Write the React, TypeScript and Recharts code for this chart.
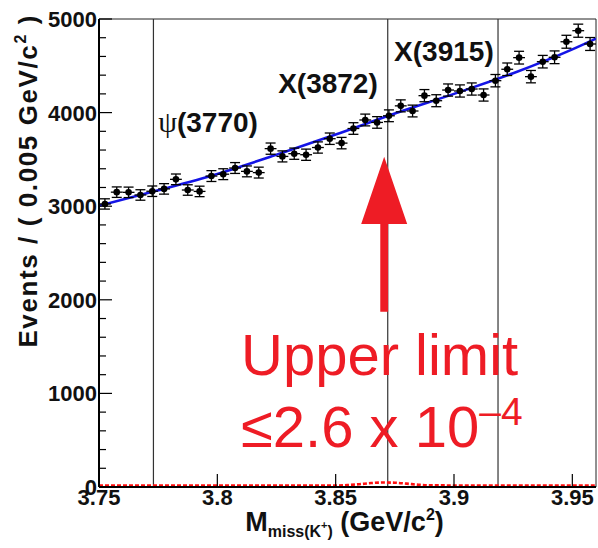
import {
  ComposedChart,
  XAxis,
  YAxis,
  Line,
  Scatter,
  ErrorBar,
  ReferenceLine,
  ReferenceArea,
  ReferenceDot,
} from "recharts"

// K+ recoil mass spectrum, 5 MeV bins
const massBins = [
  3.7525, 3.7575, 3.7625, 3.7675, 3.7725, 3.7775, 3.7825, 3.7875, 3.7925, 3.7975,
  3.8025, 3.8075, 3.8125, 3.8175, 3.8225, 3.8275, 3.8325, 3.8375, 3.8425, 3.8475,
  3.8525, 3.8575, 3.8625, 3.8675, 3.8725, 3.8775, 3.8825, 3.8875, 3.8925, 3.8975,
  3.9025, 3.9075, 3.9125, 3.9175, 3.9225, 3.9275, 3.9325, 3.9375, 3.9425, 3.9475,
  3.9525, 3.9575,
]

const events = [
  3024, 3150, 3148, 3120, 3160, 3185, 3287, 3173, 3158, 3322,
  3342, 3408, 3372, 3359, 3615, 3532, 3561, 3550, 3627, 3721,
  3674, 3830, 3921, 3895, 3966, 4072, 4017, 4181, 4127, 4241,
  4231, 4252, 4188, 4341, 4463, 4587, 4384, 4544, 4591, 4757,
  4875, 4733,
]

const eventErrors = [
  55, 56, 56, 56, 56, 56, 57, 56, 56, 58,
  58, 58, 58, 58, 60, 59, 60, 60, 60, 61,
  61, 62, 63, 62, 63, 64, 63, 65, 64, 65,
  65, 65, 65, 66, 67, 68, 66, 67, 68, 69,
  70, 69,
]

const binHalfWidth = 0.0025

// background fit (blue)
const fitMass = [3.75, 3.775, 3.8, 3.825, 3.85, 3.875, 3.9, 3.925, 3.95, 3.96]
const fitEvents = [3005, 3170, 3345, 3550, 3765, 3990, 4200, 4420, 4675, 4790]

// signal shape at the upper limit (red dotted)
const signalMass = [3.75, 3.85, 3.855, 3.86, 3.865, 3.87, 3.875, 3.88, 3.885, 3.89, 3.96]
const signalEvents = [16, 16, 20, 30, 42, 48, 46, 36, 24, 17, 16]

const resonanceMasses = [3.773, 3.872, 3.9186]

const xTicks = [3.75, 3.8, 3.85, 3.9, 3.95]
const yTicks = [
  0, 200, 400, 600, 800, 1000, 1200, 1400, 1600, 1800, 2000, 2200, 2400,
  2600, 2800, 3000, 3200, 3400, 3600, 3800, 4000, 4200, 4400, 4600, 4800, 5000,
]

const points = massBins.map((mass, i) => ({
  mass,
  events: events[i],
  ey: eventErrors[i],
  ex: binHalfWidth,
}))
const fitData = fitMass.map((mass, i) => ({ mass, events: fitEvents[i] }))
const signalData = signalMass.map((mass, i) => ({ mass, events: signalEvents[i] }))

const SANS = "'Liberation Sans', Arial, Helvetica, sans-serif"
const SERIF = "'Liberation Serif', 'Times New Roman', serif"
const RED = "#ee1c25"

const YTick = (props: any) => {
  const { x, y, payload } = props
  const major = payload.value % 1000 === 0
  return (
    <g>
      <line x1={x} x2={x + (major ? 13 : 7)} y1={y} y2={y} stroke="#000" strokeWidth={1.2} />
      {major && (
        <text x={x - 2} y={y + 8} textAnchor="end" fontSize={22} fontWeight="bold" fontFamily={SANS} fill="#111">
          {payload.value}
        </text>
      )}
    </g>
  )
}

const XTick = (props: any) => {
  const { x, y, payload } = props
  return (
    <g>
      <line x1={x} x2={x} y1={y} y2={y - 13} stroke="#000" strokeWidth={1.2} />
      <text x={x} y={y + 18} textAnchor="middle" fontSize={22} fontWeight="bold" fontFamily={SANS} fill="#111">
        {String(payload.value)}
      </text>
    </g>
  )
}

const YTitle = (props: any) => {
  const { viewBox } = props
  const tx = viewBox.x + 37
  const ty = viewBox.y - 5
  return (
    <text
      transform={`translate(${tx},${ty}) rotate(-90)`}
      textAnchor="end"
      fontSize={26}
      letterSpacing={1.6}
      fontWeight="bold"
      fontFamily={SANS}
      fill="#111"
    >
      <tspan>Events / ( 0.005 GeV/c</tspan>
      <tspan fontSize={16} dy={-11}>2</tspan>
      <tspan dy={11}> )</tspan>
    </text>
  )
}

const XTitle = (props: any) => {
  const { viewBox } = props
  const cx = viewBox.x + viewBox.width / 2 - 3
  return (
    <text x={cx} y={viewBox.y + 44} textAnchor="middle" fontSize={27} fontWeight="bold" fontFamily={SANS} fill="#111">
      <tspan>M</tspan>
      <tspan fontSize={16} dy={6}>miss(K</tspan>
      <tspan fontSize={11} dy={-8}>+</tspan>
      <tspan fontSize={16} dy={8}>)</tspan>
      <tspan dy={-6}> (GeV/c</tspan>
      <tspan fontSize={16} dy={-11}>2</tspan>
      <tspan dy={11}>)</tspan>
    </text>
  )
}

const Dot = (props: any) => <circle cx={props.cx} cy={props.cy} r={3.3} fill="#000" />

const Arrow = (props: any) => {
  const { x1, y1, y2 } = props
  const headLen = 0.434 * (y1 - y2)
  const shaft = 3.9
  const head = 23
  const base = y2 + headLen
  return (
    <polygon
      points={`${x1 - shaft},${y1} ${x1 - shaft},${base} ${x1 - head},${base} ${x1},${y2} ${x1 + head},${base} ${x1 + shaft},${base} ${x1 + shaft},${y1}`}
      fill={RED}
    />
  )
}

const resonanceLabel = (name: string, psi: boolean) => (p: any) => (
  <text x={p.cx} y={p.cy} fontSize={28} fontWeight="bold" fontFamily={SANS} fill="#111">
    {psi && (
      <tspan fontFamily={SERIF} fontWeight="normal" fontSize={30}>
        ψ
      </tspan>
    )}
    <tspan>{name}</tspan>
  </text>
)

const limitLine1 = (p: any) => (
  <text x={p.cx} y={p.cy} fontSize={58} fontFamily={SANS} fill={RED}>
    Upper limit
  </text>
)

const limitLine2 = (p: any) => (
  <text x={p.cx} y={p.cy} fontSize={58} fontFamily={SANS} fill={RED}>
    <tspan>≤2.6 x 10</tspan>
    <tspan fontSize={39} dy={-22}>–4</tspan>
  </text>
)

export default function App() {
  return (
    <div style={{ position: "absolute", left: 0, top: 0, width: 598, height: 548, background: "#fff" }}>
      <ComposedChart width={598} height={548} margin={{ top: 19, right: 2, bottom: 31, left: 0 }}>
        <XAxis
          dataKey="mass"
          type="number"
          domain={[3.75, 3.96]}
          allowDataOverflow
          ticks={xTicks}
          interval={0}
          tickSize={0}
          tickMargin={0}
          tickLine={false}
          tick={<XTick />}
          axisLine={{ stroke: "#000", strokeWidth: 2 }}
          height={30}
          label={<XTitle />}
        />
        <YAxis
          type="number"
          domain={[0, 5000]}
          allowDataOverflow
          ticks={yTicks}
          interval={0}
          tickSize={0}
          tickMargin={0}
          tickLine={false}
          tick={<YTick />}
          axisLine={{ stroke: "#000", strokeWidth: 2 }}
          width={99}
          label={<YTitle />}
        />
        <ReferenceArea x1={3.75} x2={3.96} y1={0} y2={5000} fill="none" stroke="#222" strokeWidth={1} />
        {resonanceMasses.map((m) => (
          <ReferenceLine key={m} x={m} stroke="#333" strokeWidth={1.2} />
        ))}
        <Line
          data={signalData}
          dataKey="events"
          type="monotone"
          stroke="#ff1010"
          strokeWidth={2.6}
          strokeDasharray="4 2"
          dot={false}
          isAnimationActive={false}
        />
        <Line
          data={fitData}
          dataKey="events"
          type="monotone"
          stroke="#1414e6"
          strokeWidth={2.6}
          dot={false}
          isAnimationActive={false}
        />
        <Scatter data={points} dataKey="events" shape={<Dot />} isAnimationActive={false}>
          <ErrorBar dataKey="ey" direction="y" width={5} stroke="#000" strokeWidth={1.3} />
          <ErrorBar dataKey="ex" direction="x" width={0} stroke="#000" strokeWidth={1.3} />
        </Scatter>
        <ReferenceLine
          segment={[
            { x: 3.8705, y: 1873 },
            { x: 3.8705, y: 3529 },
          ]}
          shape={<Arrow />}
        />
        <ReferenceDot x={3.775} y={3796} r={0} shape={resonanceLabel("(3770)", true)} />
        <ReferenceDot x={3.8257} y={4209} r={0} shape={resonanceLabel("X(3872)", false)} />
        <ReferenceDot x={3.8747} y={4546} r={0} shape={resonanceLabel("X(3915)", false)} />
        <ReferenceDot x={3.81} y={1197} r={0} shape={limitLine1} />
        <ReferenceDot x={3.81} y={430} r={0} shape={limitLine2} />
      </ComposedChart>
    </div>
  )
}
